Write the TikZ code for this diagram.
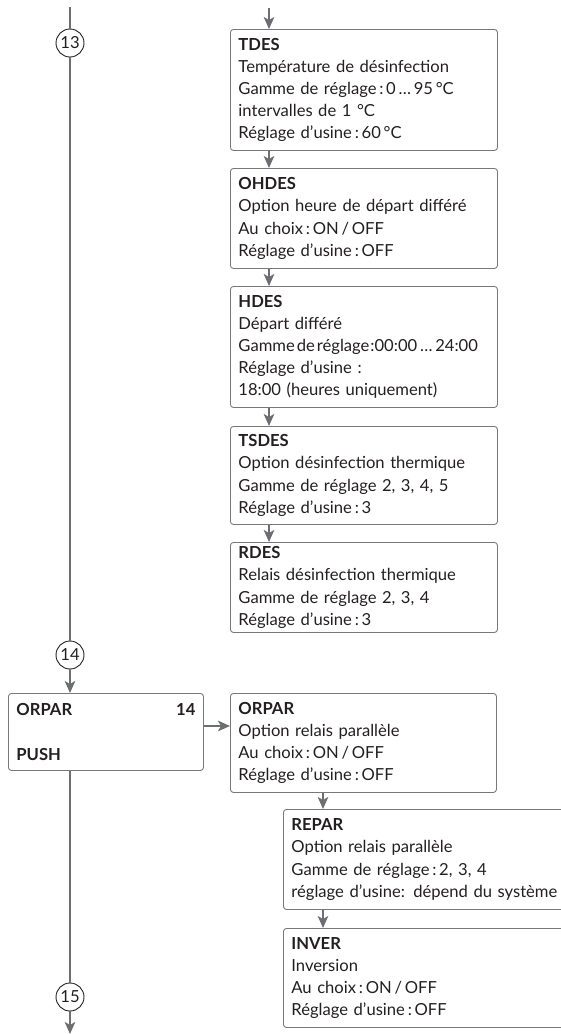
\documentclass[tikz,border=0pt]{standalone}
\usepackage{fontspec}
\setmainfont{Lato}
\usetikzlibrary{arrows.meta,positioning,calc}
\definecolor{flowline}{HTML}{6D6E71}
\definecolor{boxline}{HTML}{77787B}
\definecolor{inktext}{HTML}{231F20}

\begin{document}
\begin{tikzpicture}[x=1pt,y=-1pt,font=\fontsize{16.6}{22.2}\selectfont,
  menubox/.style={draw=boxline,line width=.9pt,rounded corners=3pt,anchor=north west,
    align=left,inner xsep=8pt,inner ysep=4pt,text=inktext},
  stepno/.style={circle,draw=inktext,line width=.9pt,fill=white,minimum size=28pt,inner sep=0pt,text=inktext},
  flow/.style={flowline,line width=1.8pt},
  flowarr/.style={flow,-{Stealth[length=12pt,width=10.5pt,inset=3pt]}}]
\useasboundingbox (0,0) rectangle (560,1034);
% left column: menu numbers and the parallel relay entry
\node[stepno] (c13) at (70,43) {13};
\node[stepno] (c14) at (70,655) {14};
\node[stepno] (c15) at (70,997) {15};
\node[menubox,text width=179pt,minimum height=77pt] (orparL) at (8,693)
  {\textbf{ORPAR}\hfill\textbf{14}\hspace*{5pt}\\[22pt]\textbf{PUSH}};
% right column: disinfection sub menu
\node[menubox,text width=251pt,minimum height=121pt] (tdes) at (230,29)
  {\textbf{TDES}\\Température de désinfection\\Gamme de réglage\,:\,0\,…\,95\,°C\\intervalles de 1 °C\\Réglage d’usine\,:\,60\,°C};
\node[menubox,text width=251pt,minimum height=100pt] (ohdes) at (230,168)
  {\textbf{OHDES}\\Option heure de départ différé\\Au choix\,:\,ON\,/\,OFF\\Réglage d’usine\,:\,OFF};
\node[menubox,text width=251pt,minimum height=121pt] (hdes) at (230,286)
  {\textbf{HDES}\\Départ différé\\Gamme\kern2pt de\kern2pt réglage\kern1pt:00:00\,…\,24:00\\Réglage d’usine :\\18:00 (heures uniquement)};
\node[menubox,text width=251pt,minimum height=98pt] (tsdes) at (230,426)
  {\textbf{TSDES}\\Option désinfection thermique\\Gamme de réglage 2, 3, 4, 5\\Réglage d’usine\,:\,3};
\node[menubox,text width=251pt,minimum height=90pt] (rdes) at (230,542)
  {\textbf{RDES}\\Relais désinfection thermique\\Gamme de réglage 2, 3, 4\\Réglage d’usine\,:\,3};
% parallel relay sub menu
\node[menubox,text width=250pt,minimum height=99pt] (orparR) at (230,693)
  {\textbf{ORPAR}\\Option relais parallèle\\Au choix\,:\,ON\,/\,OFF\\Réglage d’usine\,:\,OFF};
\node[menubox,text width=284pt,minimum height=100pt] (repar) at (283,809)
  {\textbf{REPAR}\\Option relais parallèle\\Gamme de réglage\,:\,2, 3, 4\\réglage d’usine: dépend du système};
\node[menubox,text width=284pt,minimum height=99pt] (inver) at (283,928)
  {\textbf{INVER}\\Inversion\\Au choix\,:\,ON\,/\,OFF\\Réglage d’usine\,:\,OFF};
\coordinate (lefttop) at (70,7);
\coordinate (leftend) at (70,1034);
\coordinate (righttop) at (269,8);
\coordinate (spine) at (269,0);
\coordinate (subspine) at (323,0);
\coordinate (branchrow) at (0,726);
\draw[flow] (lefttop) -- (c13);
\draw[flow] (c13) -- (c14);
\draw[flowarr] (c14) -- (c14 |- orparL.north);
\draw[flow] (c14 |- orparL.south) -- (c15);
\draw[flowarr] (c15) -- (leftend);
\draw[flowarr] (righttop) -- (tdes.north -| spine);
\foreach \a/\b in {tdes/ohdes,ohdes/hdes,hdes/tsdes,tsdes/rdes}
  \draw[flowarr] (\a.south -| spine) -- (\b.north -| spine);
\draw[flowarr] (orparL.east |- branchrow) -- (orparR.west |- branchrow);
\draw[flowarr] (orparR.south -| subspine) -- (repar.north -| subspine);
\draw[flowarr] (repar.south -| subspine) -- (inver.north -| subspine);
\end{tikzpicture}
\end{document}
